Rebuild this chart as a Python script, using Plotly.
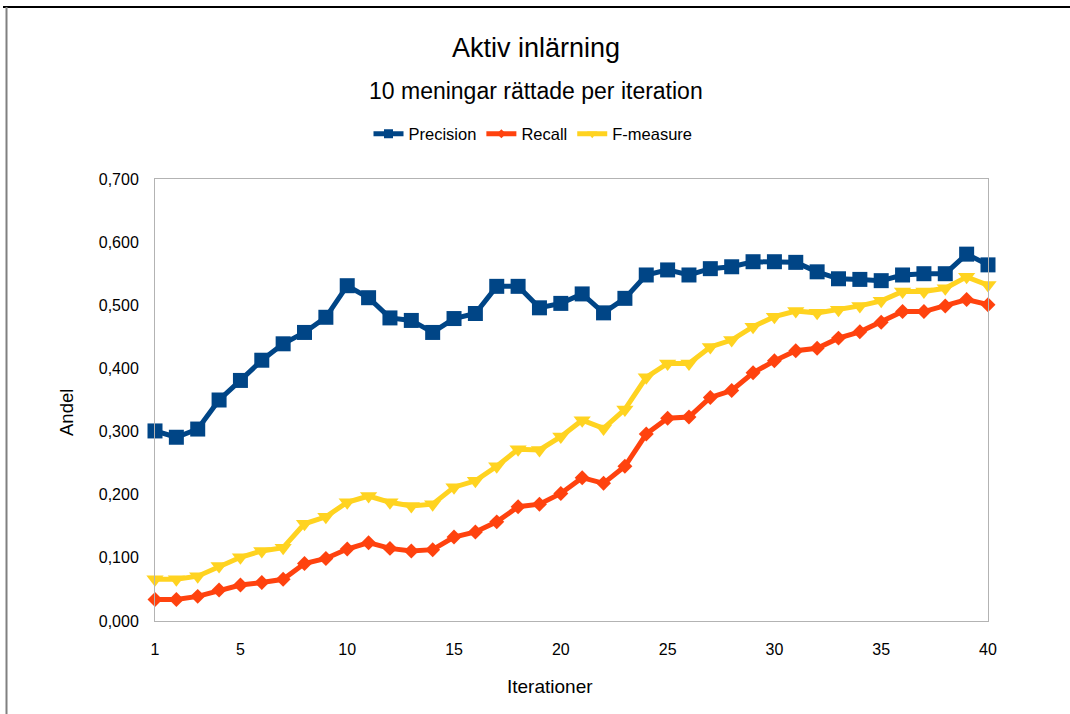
import plotly.graph_objects as go

# Iteration numbers (1..40)
iterations = list(range(1, 41))

precision = [
    0.301, 0.291, 0.304, 0.350, 0.381, 0.413, 0.439, 0.457, 0.481, 0.531,
    0.512, 0.480, 0.476, 0.457, 0.479, 0.487, 0.530, 0.530, 0.496, 0.503,
    0.518, 0.488, 0.511, 0.548, 0.556, 0.548, 0.558, 0.561, 0.569, 0.569,
    0.568, 0.553, 0.542, 0.541, 0.539, 0.548, 0.550, 0.550, 0.581, 0.564,
]

recall = [
    0.034, 0.034, 0.039, 0.049, 0.057, 0.061, 0.066, 0.091, 0.099, 0.114,
    0.124, 0.115, 0.111, 0.113, 0.133, 0.141, 0.157, 0.181, 0.185, 0.202,
    0.227, 0.218, 0.245, 0.296, 0.321, 0.323, 0.354, 0.365, 0.393, 0.412,
    0.428, 0.432, 0.448, 0.458, 0.473, 0.490, 0.490, 0.499, 0.509, 0.501,
]

f_measure = [
    0.066, 0.066, 0.071, 0.087, 0.101, 0.111, 0.116, 0.154, 0.165, 0.188,
    0.198, 0.188, 0.182, 0.185, 0.212, 0.222, 0.245, 0.272, 0.271, 0.292,
    0.318, 0.305, 0.335, 0.386, 0.408, 0.408, 0.434, 0.445, 0.466, 0.482,
    0.491, 0.488, 0.493, 0.499, 0.507, 0.522, 0.522, 0.527, 0.545, 0.532,
]

x_ticks = [1, 5, 10, 15, 20, 25, 30, 35, 40]
y_ticks = [0.0, 0.1, 0.2, 0.3, 0.4, 0.5, 0.6, 0.7]

W, H = 1070, 714
ML, MR, MT, MB = 155, 82, 179, 93
PW, PH = W - ML - MR, H - MT - MB

BLUE = "#004586"
ORANGE = "#ff420e"
YELLOW = "#ffd320"
FONT = "Liberation Sans, Arial, sans-serif"


def px(xp):
    """Pixel column -> paper x."""
    return (xp - ML) / PW


def py(yp):
    """Pixel row -> paper y."""
    return (H - MB - yp) / PH


series = [
    ("Precision", precision, BLUE, "square", 15),
    ("Recall", recall, ORANGE, "diamond", 11.5),
    ("F-measure", f_measure, YELLOW, "triangle-down", 15),
]

fig = go.Figure()
for name, vals, color, symbol, size in series:
    fig.add_trace(go.Scatter(
        x=iterations, y=vals, name=name, mode="lines+markers",
        line=dict(color=color, width=5),
        marker=dict(symbol=symbol, size=size, color=color),
        cliponaxis=False, showlegend=False, legendgroup=name,
    ))

# Legend entries with smaller key symbols
for name, vals, color, symbol, size in series:
    fig.add_trace(go.Scatter(
        x=[None], y=[None], name=name, mode="lines+markers",
        line=dict(color=color, width=5),
        marker=dict(symbol=symbol, size=size * 0.6, color=color),
        showlegend=True, legendgroup=name,
    ))

fig.update_layout(
    width=W, height=H,
    margin=dict(l=ML, r=MR, t=MT, b=MB, autoexpand=False),
    paper_bgcolor="white", plot_bgcolor="white",
    separators=", ",
    font=dict(family=FONT, size=16, color="black"),
    showlegend=True,
    legend=dict(
        orientation="h", x=px(533), xanchor="center", y=py(134), yanchor="middle",
        font=dict(size=16.5), itemwidth=30, bgcolor="rgba(0,0,0,0)",
    ),
    title=dict(
        text="Aktiv inlärning", xref="paper", x=px(536), xanchor="center",
        yref="container", y=1 - 48 / H, yanchor="middle",
        font=dict(family="Liberation Sans Narrow, Liberation Sans, Arial", size=27),
    ),
)

fig.update_xaxes(
    range=[1, 40], tickvals=x_ticks, showgrid=False, zeroline=False,
    showline=True, mirror=True, linecolor="#b3b3b3", linewidth=1,
    ticks="outside", ticklen=14, tickcolor="rgba(0,0,0,0)",
    tickfont=dict(size=16),
)
fig.update_yaxes(
    range=[0, 0.7], tickvals=y_ticks, tickformat=".3f", showgrid=False,
    zeroline=False, showline=True, mirror=True, linecolor="#b3b3b3",
    linewidth=1, ticks="outside", ticklen=12, tickcolor="rgba(0,0,0,0)",
    tickfont=dict(size=16),
)

fig.add_annotation(
    text="10 meningar rättade per iteration", xref="paper", yref="paper",
    x=px(536), y=py(91), xanchor="center", yanchor="middle",
    showarrow=False, font=dict(size=23),
)
fig.add_annotation(
    text="Andel", xref="paper", yref="paper", x=px(66), y=py(413),
    xanchor="center", yanchor="middle", textangle=-90,
    showarrow=False, font=dict(size=18.5),
)
fig.add_annotation(
    text="Iterationer", xref="paper", yref="paper", x=px(550), y=py(686),
    xanchor="center", yanchor="middle", showarrow=False, font=dict(size=19),
)

# Outer chart frame (top and left edges)
fig.add_shape(type="line", xref="paper", yref="paper",
              x0=px(3), x1=px(W), y0=py(7), y1=py(7),
              line=dict(color="black", width=2))
fig.add_shape(type="line", xref="paper", yref="paper",
              x0=px(6.5), x1=px(6.5), y0=py(7), y1=py(H),
              line=dict(color="#808080", width=2))

fig.write_html("out.html")
